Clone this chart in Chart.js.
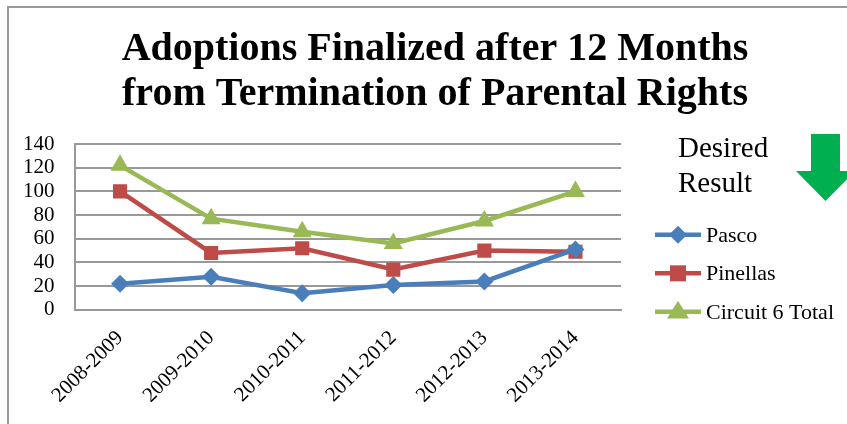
<!DOCTYPE html>
<html>
<head>
<meta charset="utf-8">
<script src="https://cdn.jsdelivr.net/npm/chart.js@4.4.0/dist/chart.umd.min.js"></script>
<style>
    html, body { margin: 0; padding: 0; background: #fff; }
    #canva { width: 847px; height: 424px; }
</style>
</head>
<body>
<div id="canva"><canvas id="myChart" width="847" height="424"></canvas></div>
<script>
var periodos = ['2008-2009', '2009-2010', '2010-2011', '2011-2012', '2012-2013', '2013-2014'];
var pasco = [22, 28, 14, 21, 24, 51];
var pinellas = [100, 48, 52, 34, 50, 49];
var circuito = [122, 77, 66, 56, 75, 100];
var ticksY = [0, 20, 40, 60, 80, 100, 120, 140];
var titulo = ['Adoptions Finalized after 12 Months', 'from Termination of Parental Rights'];
var resultado = ['Desired', 'Result'];

var fuente = "'Liberation Serif', 'Times New Roman', serif";

function marca(ctx, estilo, x, y, r, color) {
    ctx.fillStyle = color;
    ctx.beginPath();
    if (estilo === 'rectRot') {
        ctx.moveTo(x, y - r); ctx.lineTo(x + r, y); ctx.lineTo(x, y + r); ctx.lineTo(x - r, y);
    } else if (estilo === 'rect') {
        ctx.rect(x - r * 0.8, y - r * 0.8, r * 1.6, r * 1.6);
    } else {
        ctx.moveTo(x, y - r); ctx.lineTo(x + r, y + r * 0.6); ctx.lineTo(x - r, y + r * 0.6);
    }
    ctx.closePath();
    ctx.fill();
}

// marco, titulo, leyenda y flecha de "Desired Result"
const extras = {
    id: 'extras',
    beforeDraw(chart) {
        const ctx = chart.ctx;
        ctx.save();
        ctx.fillStyle = '#fff';
        ctx.fillRect(0, 0, chart.width, chart.height);
        ctx.strokeStyle = '#999';
        ctx.lineWidth = 2;
        ctx.beginPath();
        ctx.moveTo(8, chart.height);
        ctx.lineTo(8, 7);
        ctx.lineTo(chart.width, 7);
        ctx.stroke();
        ctx.fillStyle = '#000';
        ctx.font = "bold 40px " + fuente;
        ctx.textAlign = 'center';
        ctx.textBaseline = 'alphabetic';
        titulo.forEach(function (t, i) {
            ctx.fillText(t, 435, 60 + i * 45);
        });
        ctx.restore();
    },
    afterDraw(chart) {
        const ctx = chart.ctx;
        const area = chart.chartArea;
        ctx.save();
        // leyenda
        const x0 = area.right + 34;
        chart.data.datasets.forEach(function (ds, i) {
            const y = area.bottom - 75 + i * 38.5;
            ctx.strokeStyle = ds.borderColor;
            ctx.lineWidth = 4.5;
            ctx.beginPath();
            ctx.moveTo(x0, y);
            ctx.lineTo(x0 + 46, y);
            ctx.stroke();
            marca(ctx, ds.pointStyle, x0 + 23, y, ds.pointRadius, ds.borderColor);
            ctx.fillStyle = '#000';
            ctx.font = "22px " + fuente;
            ctx.textBaseline = 'middle';
            ctx.textAlign = 'left';
            ctx.fillText(ds.label, x0 + 51, y + 1);
        });
        // texto "Desired Result"
        ctx.font = "29px " + fuente;
        ctx.textBaseline = 'alphabetic';
        ctx.fillStyle = '#000';
        resultado.forEach(function (t, i) {
            ctx.fillText(t, area.right + 57, 157 + i * 35);
        });
        // flecha verde
        ctx.fillStyle = '#00B050';
        ctx.beginPath();
        ctx.moveTo(811, 134);
        ctx.lineTo(840, 134);
        ctx.lineTo(840, 171);
        ctx.lineTo(855, 171);
        ctx.lineTo(825.5, 201);
        ctx.lineTo(796, 171);
        ctx.lineTo(811, 171);
        ctx.closePath();
        ctx.fill();
        ctx.restore();
    }
};

const ctx = document.getElementById('myChart').getContext('2d');
const myChart = new Chart(ctx, {
    type: 'line',
    data: {
        labels: periodos,
        datasets: [{
            label: 'Pasco',
            data: pasco,
            borderColor: '#4A7EBB',
            backgroundColor: '#4A7EBB',
            pointStyle: 'rectRot',
            pointRadius: 9
        }, {
            label: 'Pinellas',
            data: pinellas,
            borderColor: '#BE4B48',
            backgroundColor: '#BE4B48',
            pointStyle: 'rect',
            pointRadius: 10
        }, {
            label: 'Circuit 6 Total',
            data: circuito,
            borderColor: '#98B954',
            backgroundColor: '#98B954',
            pointStyle: 'triangle',
            pointRadius: 11
        }]
    },
    options: {
        responsive: false,
        animation: false,
        datasets: {
            line: { borderWidth: 4.5, tension: 0, pointBorderWidth: 0, fill: false }
        },
        layout: { padding: { left: 3, right: 226, top: 144, bottom: 8 } },
        plugins: {
            legend: { display: false },
            tooltip: { enabled: false },
            title: { display: false }
        },
        scales: {
            x: {
                offset: true,
                grid: { display: false },
                border: { color: '#999', width: 2 },
                ticks: {
                    color: '#000',
                    font: { family: fuente, size: 21 },
                    minRotation: 45,
                    maxRotation: 45,
                    autoSkip: false,
                    padding: 8
                }
            },
            y: {
                min: 0,
                max: 140,
                afterBuildTicks: function (axis) {
                    axis.ticks = ticksY.map(function (v) { return { value: v }; });
                },
                grid: { color: '#999', lineWidth: 2, drawTicks: false },
                border: { color: '#999', width: 2 },
                ticks: {
                    color: '#000',
                    font: { family: fuente, size: 21 },
                    autoSkip: false,
                    padding: 20
                }
            }
        }
    },
    plugins: [extras]
});
</script>
</body>
</html>
